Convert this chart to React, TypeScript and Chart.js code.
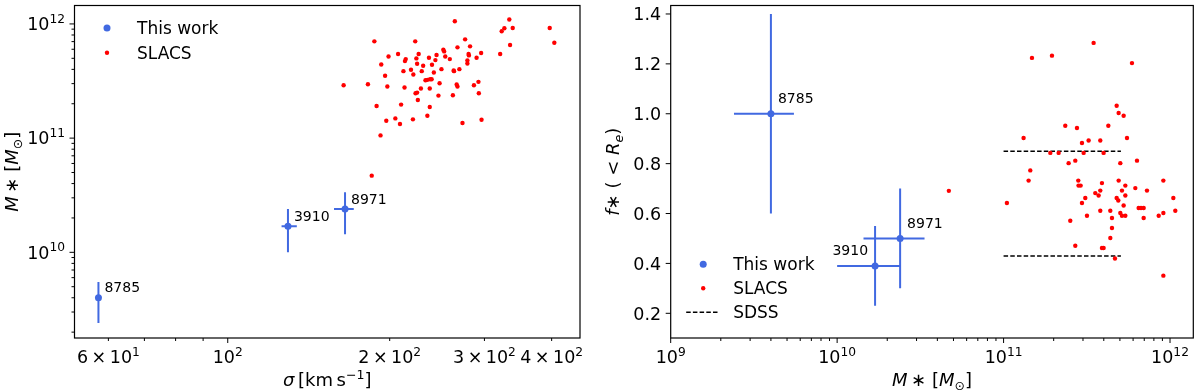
import React, { useEffect, useRef } from "react";
import { Chart, registerables } from "chart.js";
Chart.register(...registerables);

const FONT = '"DejaVu Sans", "Liberation Sans", sans-serif';
const BLUE = "#4169E1";
const RED = "#FF0000";

// ---------- "This work" lenses ----------
const workNames = ["8785", "3910", "8971"];
const workSigma = [57.5, 129.4, 165.2];
const workSigmaLo = [57.5, 125.9, 157.6];
const workSigmaHi = [57.5, 134.4, 171.5];
const workMstar = [4.0e9, 1.69e10, 2.39e10];
const workMstarLo = [2.4e9, 1.0e10, 1.44e10];
const workMstarHi = [5.5e9, 2.39e10, 3.35e10];
const workFstar = [1.0, 0.39, 0.5];
const workFstarLo = [0.6, 0.23, 0.3];
const workFstarHi = [1.4, 0.55, 0.7];

// ---------- SLACS (left panel: sigma vs M*) ----------
const slacsSigma = [
  164.2, 182.2, 187.3, 189.1, 192.3, 185.2, 192.9, 196.1, 198.0, 197.1,
  199.0, 204.9, 207.3, 209.0, 210.0, 212.1, 213.1, 213.5, 214.2, 219.1,
  220.9, 221.3, 223.1, 224.2, 224.9, 225.6, 223.4, 224.9, 226.4, 228.6,
  229.4, 230.8, 233.1, 235.0, 235.0, 236.6, 237.4, 237.7, 239.3, 237.4,
  239.7, 241.6, 243.2, 244.4, 246.4, 247.6, 249.6, 251.6, 252.5, 253.7,
  258.7, 262.1, 263.0, 263.4, 264.3, 266.4, 267.3, 267.3, 269.5, 273.1,
  276.2, 278.9, 278.9, 280.3, 282.1, 280.7, 286.8, 290.1, 292.4, 292.9,
  295.8, 296.3, 320.9, 323.0, 326.7, 333.7, 334.8, 338.6, 396.7, 404.6,
];
const slacsMstarL = [
  2.906e11, 2.966e11, 7.04e11, 1.912e11, 1.056e11, 4.69e10, 4.418e11, 3.512e11, 2.829e11, 1.421e11,
  5.193e11, 1.489e11, 5.446e11, 1.328e11, 1.965e11, 3.859e11, 2.772e11, 4.726e11, 4.922e11, 3.964e11,
  1.46e11, 3.607e11, 7.04e11, 4.988e11, 4.477e11, 2.16e11, 2.472e11, 2.505e11, 5.446e11, 2.716e11,
  3.859e11, 4.3e11, 3.216e11, 3.238e11, 1.572e11, 5.056e11, 2.716e11, 3.282e11, 3.282e11, 1.874e11,
  4.388e11, 3.756e11, 4.824e11, 5.337e11, 2.357e11, 3.027e11, 4.018e11, 5.946e11, 5.748e11, 5.193e11,
  4.922e11, 2.373e11, 3.911e11, 3.859e11, 1.056e12, 2.946e11, 2.829e11, 6.233e11, 4.018e11, 1.355e11,
  7.33e11, 4.791e11, 4.508e11, 5.446e11, 6.36e11, 5.301e11, 2.906e11, 5.056e11, 3.11e11, 2.472e11,
  5.558e11, 1.45e11, 5.446e11, 8.618e11, 9.16e11, 1.092e12, 6.534e11, 9.22e11, 9.22e11, 6.85e11,
];

// ---------- SLACS (right panel: M* vs f*) ----------
const slacsMstarR = [
  4.69e10, 1.047e11, 1.319e11, 1.447e11, 1.414e11, 1.481e11, 1.953e11, 1.909e11, 2.142e11, 2.348e11,
  2.459e11, 2.516e11, 2.697e11, 2.697e11, 2.76e11, 2.811e11, 2.82e11, 2.904e11, 2.958e11, 2.958e11,
  3.027e11, 3.097e11, 3.17e11, 3.243e11, 3.475e11, 3.556e11, 3.724e11, 3.811e11, 3.811e11, 3.811e11,
  3.9e11, 3.9e11, 3.99e11, 3.99e11, 4.259e11, 4.378e11, 4.48e11, 4.378e11, 4.48e11, 4.67e11,
  4.78e11, 4.78e11, 4.89e11, 4.913e11, 4.913e11, 5.027e11, 5.027e11, 5.144e11, 5.144e11, 5.264e11,
  5.264e11, 5.389e11, 5.389e11, 5.389e11, 5.514e11, 5.908e11, 6.188e11, 6.333e11, 6.48e11, 6.694e11,
  6.945e11, 6.945e11, 7.27e11, 8.55e11, 9.12e11, 9.12e11, 9.12e11, 1.047e12, 1.076e12,
];
const slacsFstar = [
  0.691, 0.642, 0.903, 0.773, 0.732, 1.224, 1.233, 0.843, 0.843, 0.952,
  0.802, 0.571, 0.812, 0.471, 0.943, 0.732, 0.712, 0.712, 0.883, 0.642,
  0.843, 0.662, 0.591, 0.893, 1.284, 0.682, 0.672, 0.692, 0.893, 0.611,
  0.722, 0.462, 0.462, 0.843, 0.952, 0.611, 0.582, 0.502, 0.542, 0.42,
  1.032, 0.662, 0.652, 1.003, 0.732, 0.802, 0.602, 0.692, 0.591, 0.992,
  0.632, 0.672, 0.712, 0.591, 0.903, 1.203, 0.702, 0.812, 0.622, 0.622,
  0.622, 0.582, 0.692, 0.591, 0.732, 0.602, 0.351, 0.662, 0.611,
];

// ---------- SDSS band ----------
const sdssMstarRange = [1e11, 5.07e11];
const sdssLevels = [0.85, 0.43];

// ---------- ticks ----------
const leftXTicks = [60, 70, 80, 90, 100, 200, 300, 400];
const leftXMajor = [100];
const leftXLabels = ["6\u2009×\u200910^{1}", "", "", "", "10^{2}", "2\u2009×\u200910^{2}", "3\u2009×\u200910^{2}", "4\u2009×\u200910^{2}"];
const leftYMajor = [1e10, 1e11, 1e12];
const leftYLabels = ["10^{10}", "10^{11}", "10^{12}"];
const rightXMajor = [1e9, 1e10, 1e11, 1e12];
const rightXLabels = ["10^{9}", "10^{10}", "10^{11}", "10^{12}"];
const rightYTicks = [0.2, 0.4, 0.6, 0.8, 1.0, 1.2, 1.4];
const rightYLabels = ["0.2", "0.4", "0.6", "0.8", "1.0", "1.2", "1.4"];

type Seg = { t: string; it?: boolean; sc?: "sup" | "sub" };

function parseMath(s: string): Seg[] {
  const out: Seg[] = [];
  const re = /\^\{([^}]*)\}/g;
  let last = 0;
  let m: RegExpExecArray | null;
  while ((m = re.exec(s))) {
    if (m.index > last) out.push({ t: s.slice(last, m.index) });
    out.push({ t: m[1], sc: "sup" });
    last = m.index + m[0].length;
  }
  if (last < s.length) out.push({ t: s.slice(last) });
  return out;
}

function drawRich(
  ctx: CanvasRenderingContext2D,
  segs: Seg[],
  x: number,
  y: number,
  size: number,
  align: "left" | "center" | "right",
  rot = 0
) {
  ctx.save();
  ctx.translate(x, y);
  if (rot) ctx.rotate(rot);
  const parts = segs.map((s) => {
    const fs = s.sc ? size * 0.7 : size;
    const font = `${s.it ? "italic " : ""}${fs}px ${FONT}`;
    ctx.font = font;
    const dy = s.sc === "sup" ? -size * 0.42 : s.sc === "sub" ? size * 0.22 : 0;
    return { ...s, font, w: ctx.measureText(s.t).width, dy };
  });
  const total = parts.reduce((a, p) => a + p.w, 0);
  let cx = align === "left" ? 0 : align === "center" ? -total / 2 : -total;
  ctx.fillStyle = "#000";
  ctx.textBaseline = "alphabetic";
  ctx.textAlign = "left";
  const base = size * 0.36;
  for (const p of parts) {
    ctx.font = p.font;
    ctx.fillText(p.t, cx, base + p.dy);
    cx += p.w;
  }
  ctx.restore();
}

function logMinorTicks(min: number, max: number) {
  const res: { v: number; major: boolean }[] = [];
  const e0 = Math.floor(Math.log10(min));
  const e1 = Math.ceil(Math.log10(max));
  for (let e = e0; e <= e1; e++) {
    for (let k = 1; k <= 9; k++) {
      const v = k * Math.pow(10, e);
      if (v >= min * 0.9999 && v <= max * 1.0001) res.push({ v, major: k === 1 });
    }
  }
  return res;
}

const TICK_SIZE = 17.5;
const LEGEND_SIZE = 17;
const TITLE_SIZE = 18;
const MAJ = 5;
const MIN = 3;

function errorbarSets(xs: number[], xlo: number[], xhi: number[], ys: number[], ylo: number[], yhi: number[]) {
  const sets: any[] = [];
  xs.forEach((x, i) => {
    sets.push({
      data: [{ x, y: ylo[i] }, { x, y: yhi[i] }],
      showLine: true, borderColor: BLUE, borderWidth: 2, pointRadius: 0, order: 1,
    });
    if (xhi[i] > xlo[i]) {
      sets.push({
        data: [{ x: xlo[i], y: ys[i] }, { x: xhi[i], y: ys[i] }],
        showLine: true, borderColor: BLUE, borderWidth: 2, pointRadius: 0, order: 1,
      });
    }
  });
  return sets;
}

function framePlugin(draw: (chart: any) => void) {
  return {
    id: "deco",
    afterDraw(chart: any) {
      const ctx = chart.ctx as CanvasRenderingContext2D;
      const a = chart.chartArea;
      ctx.save();
      ctx.strokeStyle = "#000";
      ctx.lineWidth = 1.2;
      ctx.strokeRect(a.left, a.top, a.right - a.left, a.bottom - a.top);
      ctx.restore();
      draw(chart);
    },
  };
}

function drawXTicks(chart: any, ticks: { v: number; major: boolean; label?: string }[]) {
  const ctx = chart.ctx as CanvasRenderingContext2D;
  const s = chart.scales.x;
  const a = chart.chartArea;
  ctx.save();
  ctx.strokeStyle = "#000";
  ctx.lineWidth = 1;
  for (const t of ticks) {
    const px = s.getPixelForValue(t.v);
    if (px < a.left - 0.5 || px > a.right + 0.5) continue;
    ctx.beginPath();
    ctx.moveTo(px, a.bottom);
    ctx.lineTo(px, a.bottom + (t.major ? MAJ : MIN));
    ctx.stroke();
    if (t.label) drawRich(ctx, parseMath(t.label), px, a.bottom + 19, TICK_SIZE, "center");
  }
  ctx.restore();
}

function drawYTicks(chart: any, ticks: { v: number; major: boolean; label?: string }[]) {
  const ctx = chart.ctx as CanvasRenderingContext2D;
  const s = chart.scales.y;
  const a = chart.chartArea;
  ctx.save();
  ctx.strokeStyle = "#000";
  ctx.lineWidth = 1;
  for (const t of ticks) {
    const py = s.getPixelForValue(t.v);
    if (py < a.top - 0.5 || py > a.bottom + 0.5) continue;
    ctx.beginPath();
    ctx.moveTo(a.left, py);
    ctx.lineTo(a.left - (t.major ? MAJ : MIN), py);
    ctx.stroke();
    if (t.label) drawRich(ctx, parseMath(t.label), a.left - MAJ - 4.5, py, TICK_SIZE, "right");
  }
  ctx.restore();
}

function drawLabels(chart: any, dx: number, dy: number, rightAlignIdx: number[]) {
  const ctx = chart.ctx as CanvasRenderingContext2D;
  const meta = chart.getDatasetMeta(0);
  workNames.forEach((n, i) => {
    const el = meta.data[i];
    const right = rightAlignIdx.includes(i);
    ctx.save();
    ctx.font = `14px ${FONT}`;
    ctx.fillStyle = "#000";
    ctx.textBaseline = "middle";
    ctx.textAlign = right ? "right" : "left";
    ctx.fillText(n, right ? el.x - dx : el.x + dx, el.y + dy);
    ctx.restore();
  });
}

function drawLegend(chart: any, rows: { kind: "big" | "small" | "dash"; text: string }[], y0: number, step: number) {
  const ctx = chart.ctx as CanvasRenderingContext2D;
  const a = chart.chartArea;
  rows.forEach((r, i) => {
    const y = y0 + i * step;
    const mx = a.left + 32.5;
    ctx.save();
    if (r.kind === "big" || r.kind === "small") {
      ctx.fillStyle = r.kind === "big" ? BLUE : RED;
      ctx.beginPath();
      ctx.arc(mx, y, r.kind === "big" ? 3.5 : 2.2, 0, Math.PI * 2);
      ctx.fill();
    } else {
      ctx.strokeStyle = "#000";
      ctx.lineWidth = 1.5;
      ctx.setLineDash([4.5, 2.2]);
      ctx.beginPath();
      ctx.moveTo(a.left + 15.5, y);
      ctx.lineTo(a.left + 49, y);
      ctx.stroke();
    }
    ctx.restore();
    drawRich(ctx, [{ t: r.text }], a.left + 62.5, y, LEGEND_SIZE, "left");
  });
}

const mstarTitle: Seg[] = [
  { t: "M", it: true }, { t: "\u2009∗ [" }, { t: "M", it: true }, { t: "⊙", sc: "sub" }, { t: "]" },
];

function LeftPanel() {
  const ref = useRef<HTMLCanvasElement>(null);
  useEffect(() => {
    const xMin = 51.9, xMax = 451.6, yMin = 1.777e9, yMax = 1.45e12;
    const xTicks = leftXTicks.map((v, i) => ({ v, major: leftXMajor.includes(v), label: leftXLabels[i] }));
    const yTicks = logMinorTicks(yMin, yMax).map((t) => {
      const j = leftYMajor.indexOf(t.v);
      return { ...t, label: j >= 0 ? leftYLabels[j] : undefined };
    });
    const chart = new Chart(ref.current!, {
      type: "scatter",
      data: {
        datasets: [
          {
            data: workSigma.map((x, i) => ({ x, y: workMstar[i] })),
            backgroundColor: BLUE, borderWidth: 0, pointRadius: 3.5, order: 0,
          },
          ...errorbarSets(workSigma, workSigmaLo, workSigmaHi, workMstar, workMstarLo, workMstarHi),
          {
            data: slacsSigma.map((x, i) => ({ x, y: slacsMstarL[i] })),
            backgroundColor: RED, borderWidth: 0, pointRadius: 2.2, order: 2,
          },
        ],
      },
      options: {
        responsive: false,
        animation: false,
        layout: { padding: { left: 0, top: 5.5, right: 20, bottom: 0 } },
        plugins: { legend: { display: false }, tooltip: { enabled: false } },
        scales: {
          x: {
            type: "logarithmic", min: xMin, max: xMax,
            ticks: { display: false }, grid: { display: false }, border: { display: false },
            afterFit: (s: any) => { s.height = 52; },
          },
          y: {
            type: "logarithmic", min: yMin, max: yMax,
            ticks: { display: false }, grid: { display: false }, border: { display: false },
            afterFit: (s: any) => { s.width = 74.5; },
          },
        },
      },
      plugins: [
        framePlugin((c: any) => {
          drawXTicks(c, xTicks);
          drawYTicks(c, yTicks);
          drawLabels(c, 6, -9, []);
          drawLegend(c, [{ kind: "big", text: "This work" }, { kind: "small", text: "SLACS" }], 28, 24.7);
          const a = c.chartArea;
          drawRich(c.ctx, [{ t: "σ", it: true }, { t: "\u2009[km\u2009s" }, { t: "−1", sc: "sup" }, { t: "]" }],
            (a.left + a.right) / 2, 380, TITLE_SIZE, "center");
          drawRich(c.ctx, mstarTitle, 12, (a.top + a.bottom) / 2, TITLE_SIZE, "center", -Math.PI / 2);
        }),
      ],
    } as any);
    return () => chart.destroy();
  }, []);
  return <canvas ref={ref} width={600} height={390} style={{ position: "absolute", left: 0, top: 0 }} />;
}

function RightPanel() {
  const ref = useRef<HTMLCanvasElement>(null);
  useEffect(() => {
    const xMin = 1e9, xMax = 1.38e12, yMin = 0.101, yMax = 1.434;
    const xTicks = logMinorTicks(xMin, xMax).map((t) => {
      const j = rightXMajor.indexOf(t.v);
      return { ...t, label: j >= 0 ? rightXLabels[j] : undefined };
    });
    const yTicks = rightYTicks.map((v, i) => ({ v, major: true, label: rightYLabels[i] }));
    const chart = new Chart(ref.current!, {
      type: "scatter",
      data: {
        datasets: [
          {
            data: workMstar.map((x, i) => ({ x, y: workFstar[i] })),
            backgroundColor: BLUE, borderWidth: 0, pointRadius: 3.5, order: 0,
          },
          ...errorbarSets(workMstar, workMstarLo, workMstarHi, workFstar, workFstarLo, workFstarHi),
          ...sdssLevels.map((lv) => ({
            data: [{ x: sdssMstarRange[0], y: lv }, { x: sdssMstarRange[1], y: lv }],
            showLine: true, borderColor: "#000", borderWidth: 1.5, borderDash: [4.5, 2.2], pointRadius: 0, order: 3,
          })),
          {
            data: slacsMstarR.map((x, i) => ({ x, y: slacsFstar[i] })),
            backgroundColor: RED, borderWidth: 0, pointRadius: 2.2, order: 2,
          },
        ],
      },
      options: {
        responsive: false,
        animation: false,
        layout: { padding: { left: 0, top: 5.5, right: 6.7, bottom: 0 } },
        plugins: { legend: { display: false }, tooltip: { enabled: false } },
        scales: {
          x: {
            type: "logarithmic", min: xMin, max: xMax,
            ticks: { display: false }, grid: { display: false }, border: { display: false },
            afterFit: (s: any) => { s.height = 52; },
          },
          y: {
            type: "linear", min: yMin, max: yMax,
            ticks: { display: false }, grid: { display: false }, border: { display: false },
            afterFit: (s: any) => { s.width = 70.7; },
          },
        },
      },
      plugins: [
        framePlugin((c: any) => {
          drawXTicks(c, xTicks);
          drawYTicks(c, yTicks);
          drawLabels(c, 7, -14.5, [1]);
          drawLegend(c, [
            { kind: "big", text: "This work" },
            { kind: "small", text: "SLACS" },
            { kind: "dash", text: "SDSS" },
          ], 264.3, 24);
          const a = c.chartArea;
          drawRich(c.ctx, mstarTitle, (a.left + a.right) / 2, 380, TITLE_SIZE, "center");
          drawRich(c.ctx, [{ t: "f", it: true }, { t: "∗ ( < " }, { t: "R", it: true }, { t: "e", it: true, sc: "sub" }, { t: ")" }],
            13, (a.top + a.bottom) / 2, TITLE_SIZE, "center", -Math.PI / 2);
        }),
      ],
    } as any);
    return () => chart.destroy();
  }, []);
  return <canvas ref={ref} width={600} height={390} style={{ position: "absolute", left: 600, top: 0 }} />;
}

export default function App() {
  return (
    <div style={{ position: "absolute", left: 0, top: 0, width: 1200, height: 390, background: "#fff" }}>
      <LeftPanel />
      <RightPanel />
    </div>
  );
}
